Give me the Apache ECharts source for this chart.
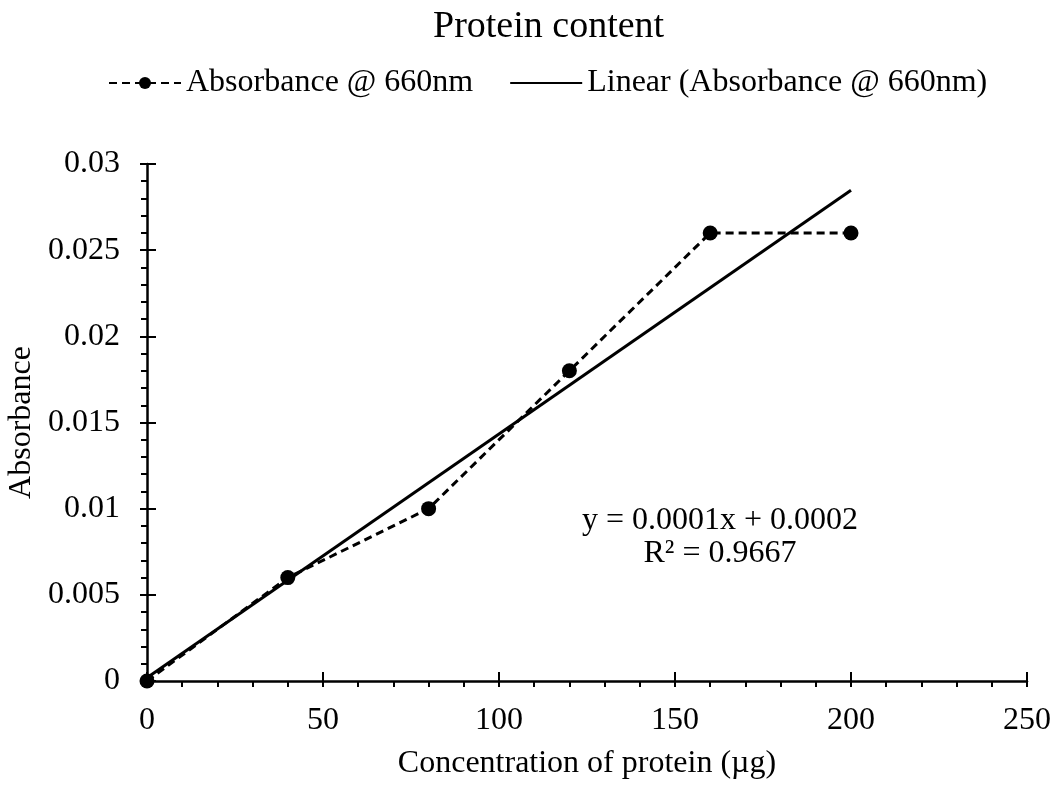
<!DOCTYPE html>
<html>
<head>
<meta charset="utf-8">
<script src="https://cdn.jsdelivr.net/npm/echarts@6/dist/echarts.min.js"></script>
<style>html,body{margin:0;padding:0;background:#fff;}#c{width:1059px;height:785px;}</style>
</head>
<body>
<div id="c"></div>
<script>
const xValues = [0, 40, 80, 120, 160, 200];
const yValues = [0, 0.006, 0.010, 0.018, 0.026, 0.026];
const seriesNames = ['Absorbance @ 660nm', 'Linear (Absorbance @ 660nm)'];
const titleText = 'Protein content';
const xAxisName = 'Concentration of protein (µg)';
const yAxisName = 'Absorbance';
const equationLines = ['y = 0.0001x + 0.0002', 'R² = 0.9667'];

// least-squares fit computed from the data
const n = xValues.length;
const mx = xValues.reduce((a, b) => a + b, 0) / n;
const my = yValues.reduce((a, b) => a + b, 0) / n;
let sxy = 0, sxx = 0;
for (let i = 0; i < n; i++) { sxy += (xValues[i] - mx) * (yValues[i] - my); sxx += (xValues[i] - mx) ** 2; }
const slope = sxy / sxx, intercept = my - slope * mx;
const trendX = [xValues[0], xValues[n - 1]];
const trendData = trendX.map(x => [x, intercept + slope * x]);

const FONT = 'Liberation Serif';
const FS = 32;
const gridBox = { left: 147, right: 32, top: 164, bottom: 104, outerBoundsMode: 'none', containLabel: false };
const chart = echarts.init(document.getElementById('c'));
chart.setOption({
  backgroundColor: '#fff',
  animation: false,
  textStyle: { fontFamily: FONT, color: '#000' },
  title: { text: titleText, left: 428, top: 3, textStyle: { fontFamily: FONT, fontWeight: 'normal', fontSize: 38, color: '#000' } },
  legend: {
    top: 62, left: 103, itemWidth: 72, itemHeight: 15, itemGap: 36,
    textStyle: { fontFamily: FONT, fontSize: FS, color: '#000' },
    data: [
      { name: seriesNames[0] },
      { name: seriesNames[1], itemStyle: { color: 'rgba(0,0,0,0)', opacity: 0, borderWidth: 0 } }
    ]
  },
  grid: [Object.assign({}, gridBox), Object.assign({}, gridBox)],
  xAxis: [{
    type: 'value', gridIndex: 0, min: 0, max: 250, interval: 50,
    name: xAxisName, nameLocation: 'middle', nameGap: 67,
    nameTextStyle: { fontFamily: FONT, fontSize: FS, color: '#000' },
    axisLine: { lineStyle: { color: '#000', width: 2.5 } },
    axisTick: { show: true, inside: false, length: 6, lineStyle: { color: '#000', width: 2 } },
    minorTick: { show: true, splitNumber: 5, length: 6, lineStyle: { color: '#000', width: 2 } },
    splitLine: { show: false },
    axisLabel: { fontFamily: FONT, fontSize: FS, color: '#000', margin: 24 }
  }, {
    type: 'value', gridIndex: 1, min: 0, max: 250, interval: 50,
    axisLine: { show: false },
    axisTick: { show: true, inside: true, length: 9, lineStyle: { color: '#000', width: 2 } },
    splitLine: { show: false }, axisLabel: { show: false }
  }],
  yAxis: [{
    type: 'value', gridIndex: 0, min: 0, max: 0.03, interval: 0.005,
    name: yAxisName, nameLocation: 'middle', nameGap: 105, nameRotate: 90,
    nameTextStyle: { fontFamily: FONT, fontSize: FS, color: '#000' },
    axisLine: { show: true, lineStyle: { color: '#000', width: 2.5 } },
    axisTick: { show: true, inside: false, length: 7, lineStyle: { color: '#000', width: 2 } },
    minorTick: { show: true, splitNumber: 5, length: 6, lineStyle: { color: '#000', width: 2 } },
    splitLine: { show: false },
    axisLabel: { fontFamily: FONT, fontSize: FS, color: '#000', margin: 27 }
  }, {
    type: 'value', gridIndex: 1, min: 0, max: 0.03, interval: 0.005,
    axisLine: { show: false },
    axisTick: { show: true, inside: true, length: 9, lineStyle: { color: '#000', width: 2 } },
    splitLine: { show: false }, axisLabel: { show: false }
  }],
  graphic: [{
    type: 'text', x: 720, y: 504,
    style: { text: equationLines.join('\n'), font: FS + 'px "Liberation Serif"', fill: '#000', align: 'center', verticalAlign: 'top', lineHeight: 33 }
  }],
  series: [{
    name: seriesNames[0], type: 'line', xAxisIndex: 0, yAxisIndex: 0,
    data: xValues.map((x, i) => [x, yValues[i]]),
    symbol: 'circle', symbolSize: 15, showSymbol: true,
    itemStyle: { color: '#000' },
    lineStyle: { color: '#000', width: 3, type: [8, 5] },
    z: 3
  }, {
    name: seriesNames[1], type: 'line', xAxisIndex: 0, yAxisIndex: 0,
    data: trendData, showSymbol: false, symbol: 'none',
    itemStyle: { color: '#000' },
    lineStyle: { color: '#000', width: 3 },
    z: 2
  }]
});
</script>
</body>
</html>
